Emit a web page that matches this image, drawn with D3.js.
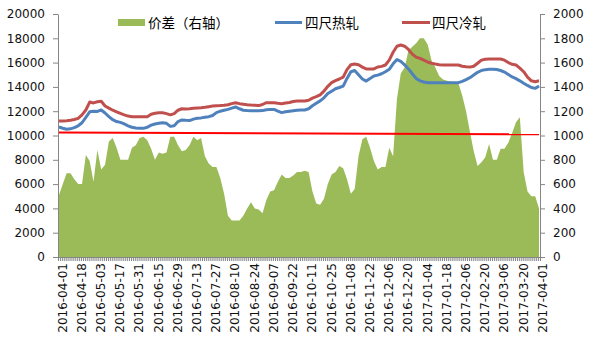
<!DOCTYPE html>
<html>
<head>
<meta charset="utf-8">
<script src="https://cdn.jsdelivr.net/npm/d3@7"></script>
<style>
  body { margin: 0; background: #fff; }
  text { font-family: "DejaVu Sans", sans-serif; }
  .legend text { font-family: "Noto Sans CJK SC", sans-serif; }
</style>
</head>
<body>
<script>
// trading-day axis: 251 days, one label every 10 days, values sampled every 2 days
const tickLabels = ['2016-04-01','2016-04-18','2016-05-03','2016-05-17','2016-05-31','2016-06-15',
  '2016-06-29','2016-07-13','2016-07-27','2016-08-10','2016-08-24','2016-09-07','2016-09-22',
  '2016-10-11','2016-10-25','2016-11-08','2016-11-22','2016-12-06','2016-12-20','2017-01-04',
  '2017-01-18','2017-02-06','2017-02-20','2017-03-06','2017-03-20','2017-04-01'];
const dayCount = 251;
const sampleStep = 2;

// 价差 (right axis)
const spread = [510,600,690,690,640,600,600,840,790,620,880,720,760,950,980,900,800,800,800,900,
  920,980,990,960,890,800,860,850,860,990,990,920,870,880,920,990,960,980,830,770,
  740,740,650,520,340,300,300,300,340,400,450,400,390,360,470,540,550,620,680,650,
  650,670,700,700,710,700,540,440,430,480,600,680,700,750,730,640,520,560,830,970,
  990,900,790,720,740,740,900,830,1300,1510,1560,1700,1730,1760,1800,1800,1750,1620,1560,1490,
  1460,1450,1440,1440,1430,1330,1200,1030,870,750,780,820,930,800,800,890,890,940,1020,1110,
  1150,700,540,500,500,400];

// 四尺热轧 (left axis)
const hotRolled = [10700,10600,10520,10550,10650,10800,11050,11500,11950,12000,11980,12100,11850,11550,11300,11150,11080,10950,10800,10680,
  10620,10590,10590,10680,10850,10950,11000,11050,11000,10750,10800,11150,11280,11250,11230,11350,11420,11450,11500,11550,
  11650,11880,12000,12080,12150,12250,12350,12200,12080,12050,12040,12040,12040,12050,12120,12150,12150,12000,11880,11950,
  12000,12040,12080,12100,12100,12200,12450,12650,12850,13100,13450,13650,13850,13950,14070,14700,15250,15350,15000,14650,
  14480,14700,14900,14970,15080,15250,15450,15900,16250,16100,15820,15480,15080,14700,14500,14400,14350,14350,14350,14350,
  14350,14350,14350,14350,14350,14450,14600,14760,14980,15200,15350,15420,15450,15450,15430,15350,15220,15020,14820,14680,
  14500,14300,14120,13950,13880,14070];

// 四尺冷轧 (left axis)
const coldRolled = [11200,11200,11220,11260,11320,11410,11700,12100,12750,12680,12780,12820,12430,12250,12080,11950,11820,11700,11600,11550,
  11550,11550,11550,11550,11750,11830,11880,11870,11800,11700,11800,12080,12200,12180,12200,12240,12260,12280,12320,12370,
  12420,12440,12460,12490,12530,12620,12700,12620,12580,12540,12510,12490,12460,12550,12700,12700,12700,12650,12620,12680,
  12720,12800,12840,12840,12840,12900,13080,13200,13350,13650,14050,14350,14520,14650,14800,15420,15820,15880,15820,15630,
  15480,15470,15480,15640,15690,15800,16200,16850,17350,17450,17350,17080,16700,16450,16350,16200,16050,15950,15880,15820,
  15800,15800,15800,15800,15800,15700,15660,15630,15700,15950,16200,16280,16300,16300,16300,16300,16200,16000,15860,15800,
  15550,15250,14800,14500,14430,14500];

// straight red reference line on the right axis, first and last day
const refLine = [1025, 1010];

const leftTicks = d3.range(0, 20001, 2000);
const rightTicks = d3.range(0, 2001, 200);

const width = 599, height = 352;
const plot = { left: 58, right: 540, top: 14, bottom: 257 };

const svg = d3.select('body').append('svg')
  .attr('width', width)
  .attr('height', height);

const x = d3.scaleLinear().domain([-0.5, dayCount - 0.5]).range([plot.left, plot.right]);
const yL = d3.scaleLinear().domain([0, 20000]).range([plot.bottom, plot.top]);
const yR = d3.scaleLinear().domain([0, 2000]).range([plot.bottom, plot.top]);

const idx = (d, i) => i * sampleStep;

// spread area
svg.append('path')
  .datum(spread)
  .attr('fill', '#9bbb59')
  .attr('d', d3.area().x((d, i) => x(idx(d, i))).y0(yR(0)).y1(d => yR(d)));

// reference line
svg.append('path')
  .datum(refLine)
  .attr('fill', 'none')
  .attr('stroke', '#ff0000')
  .attr('stroke-width', 2)
  .attr('d', d3.line().x((d, i) => x(i * (dayCount - 1))).y(d => yR(d)));

const line = d3.line().x((d, i) => x(idx(d, i))).y(d => yL(d));

svg.append('path')
  .datum(hotRolled)
  .attr('fill', 'none')
  .attr('stroke', '#4f81bd')
  .attr('stroke-width', 3)
  .attr('stroke-linejoin', 'round')
  .attr('d', line);

svg.append('path')
  .datum(coldRolled)
  .attr('fill', 'none')
  .attr('stroke', '#c0504d')
  .attr('stroke-width', 3)
  .attr('stroke-linejoin', 'round')
  .attr('d', line);

// axes
const styleAxis = g => {
  g.selectAll('.domain').attr('stroke', '#868686');
  g.selectAll('.tick line').attr('stroke', '#868686');
  g.selectAll('text').attr('fill', '#111').style('font-size', '12px')
    .style('font-family', '"DejaVu Sans", sans-serif');
};

svg.append('g')
  .attr('transform', `translate(${plot.left},0)`)
  .call(d3.axisLeft(yL).tickValues(leftTicks).tickFormat(d3.format('d'))
    .tickSize(5).tickPadding(8).tickSizeOuter(0))
  .call(styleAxis);

svg.append('g')
  .attr('transform', `translate(${plot.right},0)`)
  .call(d3.axisRight(yR).tickValues(rightTicks).tickFormat(d3.format('d'))
    .tickSize(5).tickPadding(8).tickSizeOuter(0))
  .call(styleAxis);

// category tick marks between every trading day
svg.append('g')
  .attr('transform', `translate(0,${plot.bottom})`)
  .call(d3.axisBottom(x).tickValues(d3.range(-0.5, dayCount, 1)).tickFormat('').tickSize(4).tickSizeOuter(0))
  .call(styleAxis);

// date labels
const labelAxis = svg.append('g')
  .attr('transform', `translate(0,${plot.bottom})`)
  .call(d3.axisBottom(x).tickValues(tickLabels.map((d, i) => i * 10))
    .tickFormat((d, i) => tickLabels[i]).tickSize(0))
  .call(styleAxis);
labelAxis.select('.domain').remove();
labelAxis.selectAll('text')
  .attr('transform', 'rotate(-90)')
  .attr('x', -6)
  .attr('y', 3)
  .attr('dy', '0.35em')
  .style('text-anchor', 'end');

// legend
const legend = svg.append('g').attr('class', 'legend');
legend.append('rect').attr('x', 118).attr('y', 19).attr('width', 27).attr('height', 7).attr('fill', '#9bbb59');
legend.append('text').attr('x', 148).attr('y', 23).attr('dy', '0.35em').style('font-size', '13.5px').text('价差（右轴）');
legend.append('line').attr('x1', 275).attr('x2', 302).attr('y1', 22.5).attr('y2', 22.5)
  .attr('stroke', '#4f81bd').attr('stroke-width', 3);
legend.append('text').attr('x', 305).attr('y', 23).attr('dy', '0.35em').style('font-size', '13.5px').text('四尺热轧');
legend.append('line').attr('x1', 402).attr('x2', 430).attr('y1', 22.5).attr('y2', 22.5)
  .attr('stroke', '#c0504d').attr('stroke-width', 3);
legend.append('text').attr('x', 432).attr('y', 23).attr('dy', '0.35em').style('font-size', '13.5px').text('四尺冷轧');
</script>
</body>
</html>
